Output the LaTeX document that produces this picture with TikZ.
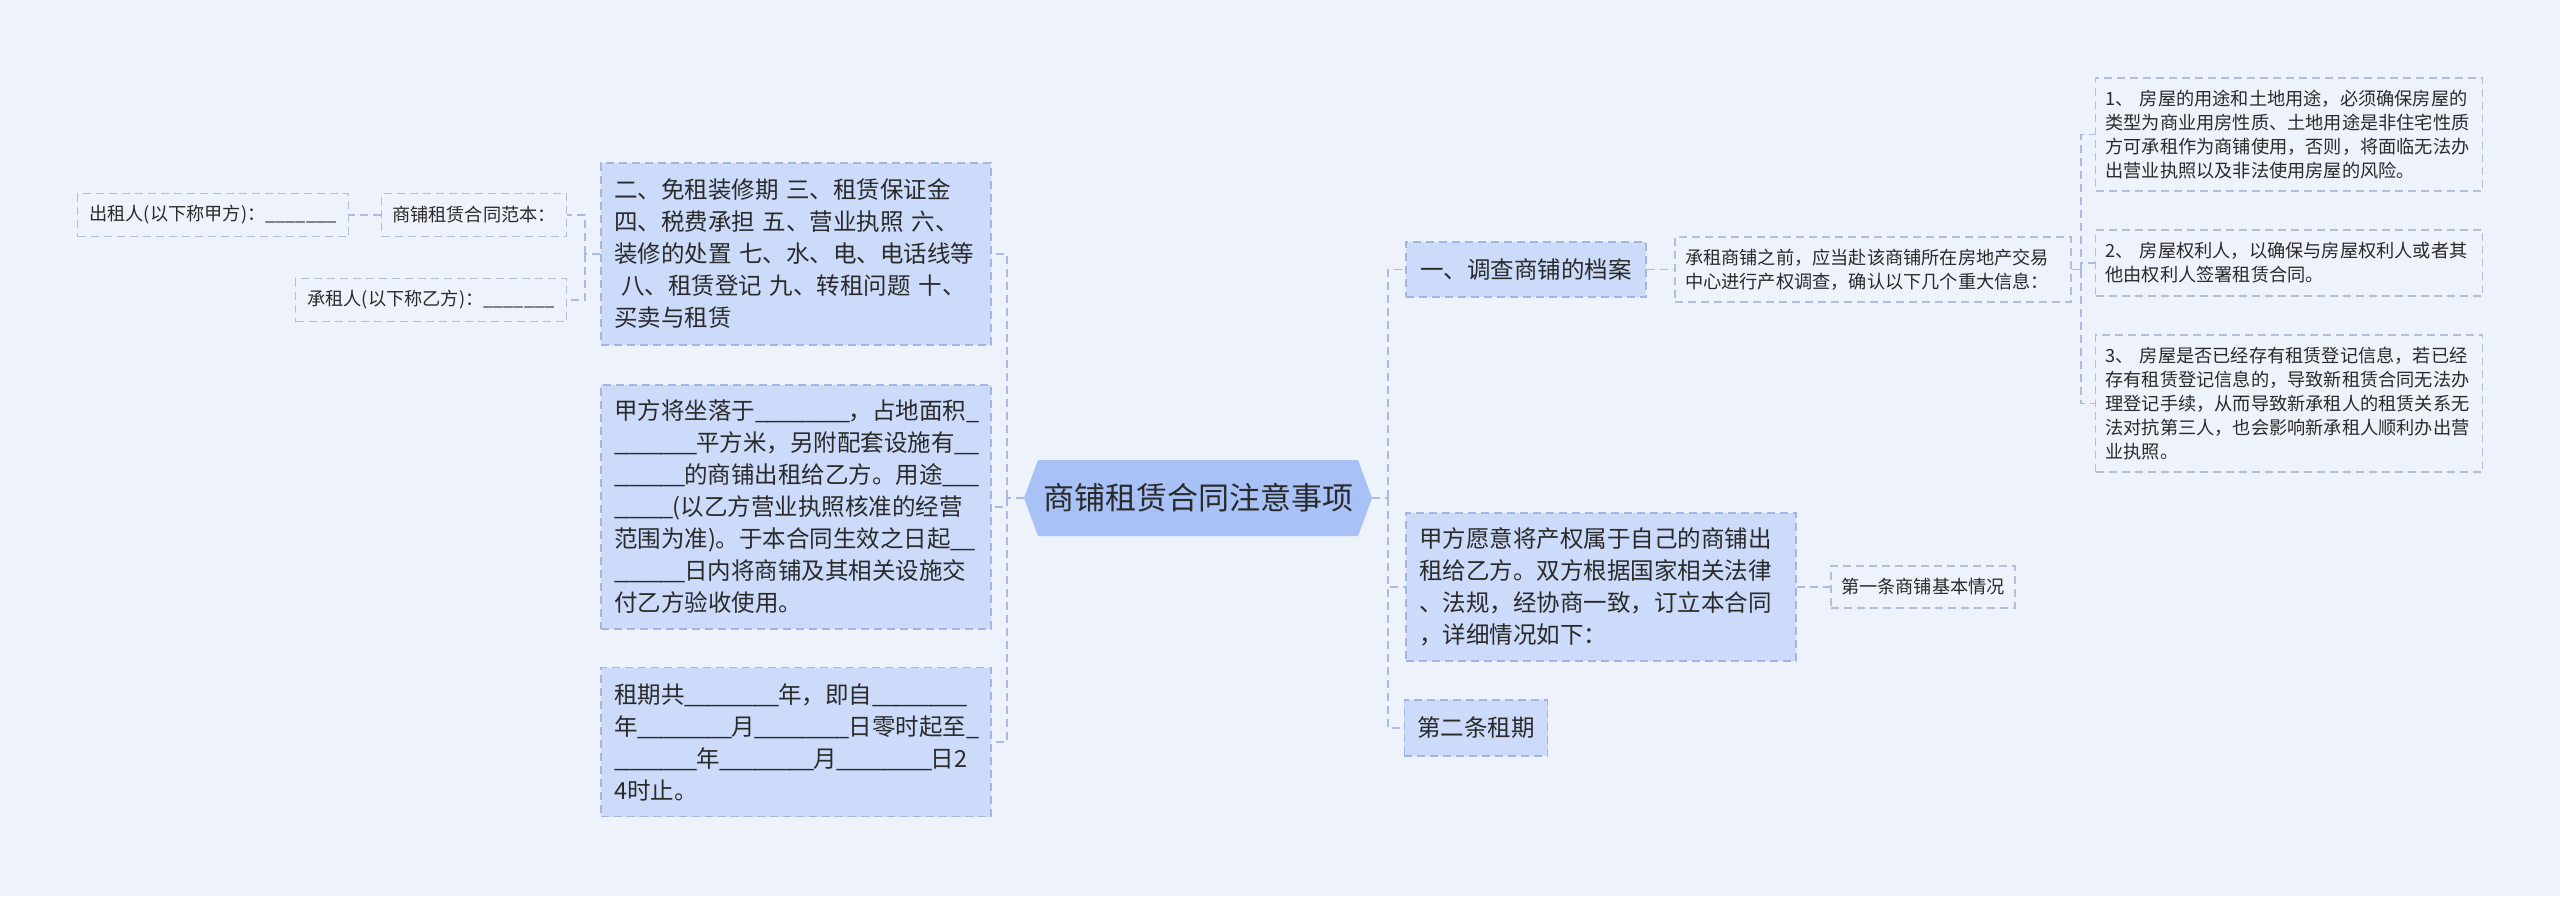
\documentclass[tikz,border=0pt]{standalone}
\usepackage{fontspec}
\setmainfont{Noto Sans CJK SC}
\definecolor{bgcol}{HTML}{EEF2FB}
\definecolor{nodefill}{HTML}{CCDBFA}
\definecolor{rootfill}{HTML}{A8C1F6}
\definecolor{nodeline}{HTML}{A3B5E0}
\definecolor{smallline}{HTML}{B4BED8}
\definecolor{linkcol}{HTML}{A9BCE6}
\definecolor{ink}{HTML}{2A2A2A}
\newcommand\blank[1]{\foreach \i in {1,...,#1}{\_\kern-0.06em}}
\tikzset{
  bignode/.style={draw=nodeline, dash pattern=on 4pt off 2.5pt, line width=0.6pt, fill=nodefill, text=ink,
    inner xsep=6.5pt, inner ysep=0pt, align=left, font=\fontsize{11.75}{16}\selectfont},
  smallnode/.style={draw=smallline, dash pattern=on 4pt off 2.5pt, line width=0.6pt, text=ink,
    inner xsep=5pt, inner ysep=0pt, align=left, font=\fontsize{9.1}{12}\selectfont},
  rootnode/.style={minimum width=174pt, minimum height=38pt, inner sep=0pt, text=ink,
    font=\fontsize{15.5}{18}\selectfont,
    path picture={\fill[rootfill] (path picture bounding box.west)
      -- ([xshift=7pt]path picture bounding box.north west)
      -- ([xshift=-7pt]path picture bounding box.north east)
      -- (path picture bounding box.east)
      -- ([xshift=-7pt]path picture bounding box.south east)
      -- ([xshift=7pt]path picture bounding box.south west) -- cycle;}},
  link/.style={draw=linkcol, dash pattern=on 4pt off 2.5pt, line width=0.75pt},
}
\begin{document}
\begin{tikzpicture}
[x=0.5pt,y=-0.5pt]
\fill[bgcol] (0,0) rectangle (2560,896);
\useasboundingbox (0,0) rectangle (2560,896);

\node[rootnode] (root) at (1198,498) {商铺租赁合同注意事项};

% left side
\node[bignode, text width=182pt, minimum height=91pt] (l1) at (796,254)
{二、免租装修期 三、租赁保证金\\四、税费承担 五、营业执照 六、\\装修的处置 七、水、电、电话线等\\\hspace*{0.3em}八、租赁登记 九、转租问题 十、\\买卖与租赁};
\node[bignode, text width=182pt, minimum height=122pt] (l2) at (796,507)
{甲方将坐落于\blank{8}，占地面积\blank{1}\\\blank{7}平方米，另附配套设施有\blank{2}\\\blank{6}的商铺出租给乙方。用途\blank{3}\\\blank{5}(以乙方营业执照核准的经营\\范围为准)。于本合同生效之日起\blank{2}\\\blank{6}日内将商铺及其相关设施交\\付乙方验收使用。};
\node[bignode, text width=182pt, minimum height=74.5pt] (l3) at (796,742)
{租期共\blank{8}年，即自\blank{8}\\年\blank{8}月\blank{8}日零时起至\blank{1}\\\blank{7}年\blank{8}月\blank{8}日2\\4时止。};

\node[smallnode, minimum width=92.5pt, minimum height=21.5pt, align=center] (tpl) at (474,215) {商铺租赁合同范本：};
\node[smallnode, minimum width=135.5pt, minimum height=21.5pt, align=center] (lessor) at (213,215) {出租人(以下称甲方)：\_\_\_\_\_\_\_};
\node[smallnode, minimum width=135.5pt, minimum height=21.5pt, align=center] (lessee) at (431,300) {承租人(以下称乙方)：\_\_\_\_\_\_\_};

% right side
\node[bignode, minimum width=120pt, minimum height=27.5pt, align=center] (r1) at (1526,269.5) {一、调查商铺的档案};
\node[bignode, text width=182pt, minimum height=74pt] (r2) at (1601,587)
{甲方愿意将产权属于自己的商铺出\\租给乙方。双方根据国家相关法律\\、法规，经协商一致，订立本合同\\，详细情况如下：};
\node[bignode, minimum width=70pt, minimum height=28pt, align=center] (r3) at (1476,728) {第二条租期};

\node[smallnode, text width=188pt, minimum height=32.5pt] (r1a) at (1873,269.5)
{承租商铺之前，应当赴该商铺所在房地产交易\\中心进行产权调查，确认以下几个重大信息：};
\node[smallnode, text width=183.5pt, minimum height=56.5pt] (r1a1) at (2289,134.5)
{1、 房屋的用途和土地用途，必须确保房屋的\\类型为商业用房性质、土地用途是非住宅性质\\方可承租作为商铺使用，否则，将面临无法办\\出营业执照以及非法使用房屋的风险。};
\node[smallnode, text width=183.5pt, minimum height=33pt] (r1a2) at (2289,263)
{2、 房屋权利人，以确保与房屋权利人或者其\\他由权利人签署租赁合同。};
\node[smallnode, text width=183.5pt, minimum height=68.5pt] (r1a3) at (2289,403.5)
{3、 房屋是否已经存有租赁登记信息，若已经\\存有租赁登记信息的，导致新租赁合同无法办\\理登记手续，从而导致新承租人的租赁关系无\\法对抗第三人，也会影响新承租人顺利办出营\\业执照。};
\node[smallnode, minimum width=92pt, minimum height=21pt, align=center] (r2a) at (1923,587) {第一条商铺基本情况};

% connectors
\coordinate (lj) at (1007,498);
\coordinate (rj) at (1388,498);
\coordinate (l1j) at (585,254);
\coordinate (r1aj) at (2081,269.5);
\draw[link] (root.west) -- (lj);
\draw[link] (root.east) -- (rj);
\foreach \n in {l1,l2,l3} \draw[link] (lj) |- (\n.east);
\foreach \n in {r1,r2,r3} \draw[link] (rj) |- (\n.west);
\draw[link] (l1.west) -- (l1j);
\draw[link] (l1j) |- (tpl.east);
\draw[link] (l1j) |- (lessee.east);
\draw[link] (tpl.west) -- (lessor.east);
\draw[link] (r1.east) -- (r1a.west);
\draw[link] (r1a.east) -- (r1aj);
\foreach \n in {r1a1,r1a2,r1a3} \draw[link] (r1aj) |- (\n.west);
\draw[link] (r2.east) -- (r2a.west);
\end{tikzpicture}
\end{document}
